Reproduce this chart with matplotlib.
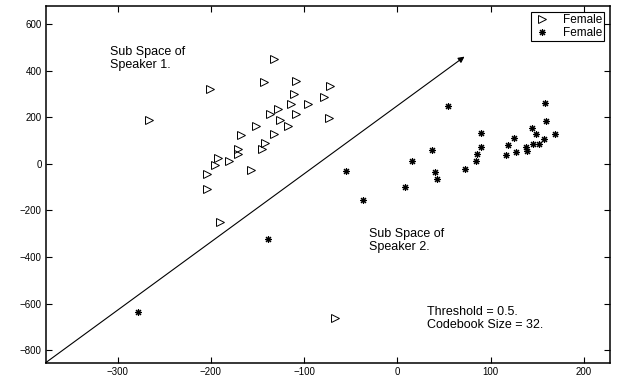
import matplotlib
matplotlib.use('Agg')
import matplotlib.pyplot as plt

plt.rcParams['font.family'] = ['Liberation Sans', 'DejaVu Sans']

# speaker 1 points (triangles)
tri_x = [-266, -201, -132, -143, -109, -111, -114, -96, -72, -79, -73, -136, -128, -126,
         -117, -109, -151, -132, -142, -145, -168, -171, -171, -180, -192, -196, -204,
         -157, -204, -190, -67]
tri_y = [187, 320, 449, 352, 355, 299, 255, 255, 335, 285, 197, 215, 235, 189,
         163, 212, 162, 126, 88, 63, 123, 63, 42, 13, 26, -7, -43,
         -28, -107, -251, -661]

# speaker 2 points (stars)
star_x = [54, 90, 90, 85, 84, 72, 37, 16, 40, 43, 8, -55, -37,
          158, 159, 169, 144, 149, 125, 119, 117, 127, 138, 139, 145, 152, 157,
          -139, -278]
star_y = [246, 130, 72, 42, 12, -23, 59, 13, -34, -66, -101, -33, -155,
          259, 185, 129, 152, 129, 112, 82, 36, 52, 72, 56, 87, 87, 107,
          -322, -635]

arrow_start = (-377, -854)
arrow_end = (72, 460)

xlims = (-377, 228)
ylims = (-854, 677)
xticks = [-300, -200, -100, 0, 100, 200]
yticks = [-800, -600, -400, -200, 0, 200, 400, 600]

fig = plt.figure(figsize=(6.19, 3.79), dpi=100)
ax = fig.add_axes([0.0738, 0.043, 0.9117, 0.941])

ax.plot(tri_x, tri_y, linestyle='none', marker='>', markersize=5.5, markerfacecolor='none',
        markeredgecolor='black', markeredgewidth=0.7, label='Female')
ax.plot(star_x, star_y, linestyle='none', marker=(8, 2, 0), markersize=5,
        color='black', markeredgewidth=0.8, label='Female')

ax.annotate('', xy=arrow_end, xytext=arrow_start,
            arrowprops=dict(arrowstyle='-|>', color='black', lw=0.8,
                            mutation_scale=9, shrinkA=0, shrinkB=0))

ax.text(-308, 505, 'Sub Space of\nSpeaker 1.', fontsize=9, va='top', ha='left', linespacing=1.15)
ax.text(-30, -275, 'Sub Space of\nSpeaker 2.', fontsize=9, va='top', ha='left', linespacing=1.15)
ax.text(32, -610, 'Threshold = 0.5.\nCodebook Size = 32.', fontsize=9, va='top', ha='left', linespacing=1.15)

ax.set_xlim(xlims)
ax.set_ylim(ylims)
ax.set_xticks(xticks)
ax.set_yticks(yticks)
ax.set_xticklabels(['\u2212300', '\u2212200', '\u2212100', '0', '100', '200'])
ax.set_yticklabels(['\u2212800', '\u2212600', '\u2212400', '\u2212200', '0', '200', '400', '600'])
ax.tick_params(direction='in', length=4, width=0.8, labelsize=7, top=True, right=True, pad=3)
for s in ax.spines.values():
    s.set_linewidth(1.1)

leg = ax.legend(loc='upper right', fontsize=8.5, frameon=True, fancybox=False,
                borderaxespad=0.5, handlelength=1.6, handletextpad=0.9,
                borderpad=0.2, labelspacing=0.05)
leg.get_frame().set_edgecolor('black')
leg.get_frame().set_linewidth(0.8)
leg.get_frame().set_alpha(1)

fig.savefig('out.png', dpi=100)
